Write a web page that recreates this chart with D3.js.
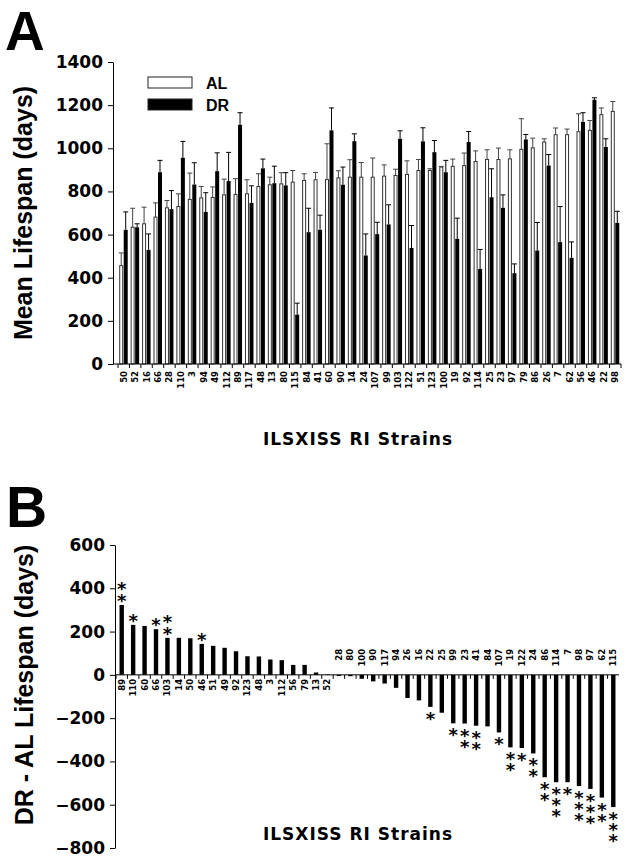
<!DOCTYPE html>
<html>
<head>
<meta charset="utf-8">
<script src="https://cdn.jsdelivr.net/npm/d3@7"></script>
<style>
  body { margin: 0; background: #fff; }
  .tick text { font-family: "DejaVu Sans", Verdana, sans-serif; font-weight: bold; }
</style>
</head>
<body>
<div id="chart"></div>
<script>
// Datos panel A (orden del eje x)
// ===============================
var strainsA = ["50","52","16","66","28","110","3","94","49","112","89","117","48","13","80","115","84","41","60","90","14","24",
  "107","99","103","122","51","123","100","19","92","114","25","23","97","79","86","26","7","62","56","46","22","98"];
var alMean = [456,634,650,681,724,730,763,770,772,784,786,789,823,831,835,843,851,854,855,863,866,866,
  866,871,874,879,897,897,913,916,920,939,948,948,951,995,1002,1029,1063,1063,1077,1083,1156,1171];
var alSem = [59,88,77,66,34,59,122,53,49,73,73,65,59,35,52,54,31,34,166,33,81,68,
  89,52,29,63,51,8,3,34,58,49,45,53,42,142,45,15,31,26,83,46,31,46];
var drMean = [622,634,529,889,718,956,832,705,894,848,1109,747,907,838,828,229,611,622,1083,831,1033,503,
  602,647,1044,538,1032,982,889,580,1029,441,773,724,421,1041,526,920,565,492,1122,1225,1006,654];
var drSem = [83,16,74,55,86,76,101,89,85,133,56,79,43,79,59,53,111,68,104,82,34,100,
  55,91,37,104,63,54,55,96,49,90,132,60,43,23,130,51,165,74,43,9,38,54];
var ticksA = [0,200,400,600,800,1000,1200,1400];

// Datos panel B
// =============
var strainsB = ["89","110","60","66","103","14","50","46","51","49","92","123","48","3","112","56","79","13","52",
  "28","80","100","90","117","94","26","16","22","25","99","23","41","84","107","19","122","24","86","114","7","98","97","62","115"];
var diffB = [323,231,226,211,171,171,169,143,134,125,109,86,85,71,68,46,46,11,2,
  -5,-6,-18,-30,-40,-60,-107,-118,-148,-175,-224,-225,-235,-238,-266,-335,-338,-363,-473,-496,-496,-514,-527,-567,-611];
var starsB = [2,1,0,1,2,0,0,1,0,0,0,0,0,0,0,0,0,0,0,
  0,0,0,0,0,0,0,0,1,0,1,2,2,0,1,2,1,2,2,3,1,3,3,2,3];
var ticksB = [-800,-600,-400,-200,0,200,400,600];

var W = 626, H = 859;
var svg = d3.select("#chart").append("svg")
  .attr("width", W).attr("height", H)
  .style("font-family", "'Liberation Sans', Arial, sans-serif");

var dataA = strainsA.map(function(s, i) {
  return { strain: s, al: alMean[i], alE: alSem[i], dr: drMean[i], drE: drSem[i] };
});
var dataB = strainsB.map(function(s, i) {
  return { strain: s, v: diffB[i], n: starsB[i] };
});

///////////////////////////////////
// PANEL A //
//////////////////////////////////
var axA = 113;
var yA = d3.scaleLinear().domain([0, 1400]).range([364, 62]);
var xA = d3.scaleBand().domain(strainsA).range([118, 621]);

svg.append("text").attr("x", 5).attr("y", 50)
  .attr("font-size", 55).attr("font-weight", "bold").text("A");

svg.append("text")
  .attr("transform", "translate(32," + ((yA(0) + yA(1400)) / 2) + ") rotate(-90)")
  .attr("text-anchor", "middle")
  .attr("font-size", 25).attr("font-weight", "bold")
  .text("Mean Lifespan (days)");

// Eje Y
var gyA = svg.append("g").attr("transform", "translate(" + axA + ",0)")
  .call(d3.axisLeft(yA).tickValues(ticksA).tickFormat(d3.format("d"))
    .tickSize(5).tickSizeOuter(0).tickPadding(5));
gyA.selectAll("text").attr("font-size", 17).attr("fill", "#000");
gyA.selectAll("line,path").attr("stroke", "#000");

// Barras AL
var bw = 4;
svg.append("g").selectAll("rect").data(dataA).enter().append("rect")
  .attr("x", function(d) { return xA(d.strain) + xA.bandwidth() / 2 - bw; })
  .attr("y", function(d) { return yA(d.al); })
  .attr("width", bw - 1)
  .attr("height", function(d) { return yA(0) - yA(d.al); })
  .attr("fill", "#fff").attr("stroke", "#333").attr("stroke-width", 1);

// Barras DR
svg.append("g").selectAll("rect").data(dataA).enter().append("rect")
  .attr("x", function(d) { return xA(d.strain) + xA.bandwidth() / 2; })
  .attr("y", function(d) { return yA(d.dr); })
  .attr("width", bw)
  .attr("height", function(d) { return yA(0) - yA(d.dr); })
  .attr("fill", "#000");

// Barras de error
function errBars(key, keyE, off, col) {
  var g = svg.append("g").attr("stroke", col).attr("stroke-width", 1);
  dataA.forEach(function(d) {
    var cx = xA(d.strain) + xA.bandwidth() / 2 + off;
    g.append("line").attr("x1", cx).attr("x2", cx)
      .attr("y1", yA(d[key])).attr("y2", yA(d[key] + d[keyE]));
    g.append("line").attr("x1", cx - 2.5).attr("x2", cx + 2.5)
      .attr("y1", yA(d[key] + d[keyE])).attr("y2", yA(d[key] + d[keyE]));
  });
}
errBars("al", "alE", -bw / 2 - 0.5, "#444");
errBars("dr", "drE", bw / 2, "#000");

// Eje X
svg.append("line").attr("x1", axA).attr("x2", xA.range()[1])
  .attr("y1", yA(0)).attr("y2", yA(0)).attr("stroke", "#000");
svg.append("g").selectAll("line").data(strainsA.concat(["end"])).enter().append("line")
  .attr("x1", function(d) { return d === "end" ? xA.range()[1] : xA(d); })
  .attr("x2", function(d) { return d === "end" ? xA.range()[1] : xA(d); })
  .attr("y1", yA(0)).attr("y2", yA(0) + 4).attr("stroke", "#000");
var gxA = svg.append("g").attr("transform", "translate(0," + yA(0) + ")")
  .call(d3.axisBottom(xA).tickSize(0));
gxA.select(".domain").remove();
gxA.selectAll("text")
  .attr("transform", "rotate(-90)").attr("x", -7).attr("y", 0).attr("dy", "0.35em")
  .style("text-anchor", "end").attr("font-size", 8.5).attr("fill", "#000");

svg.append("text").attr("x", 358).attr("y", 445).attr("text-anchor", "middle")
  .attr("font-family", "'DejaVu Sans', Verdana, sans-serif")
  .attr("font-size", 17).attr("font-weight", "bold").attr("letter-spacing", 1)
  .text("ILSXISS RI Strains");

// Leyenda
var legend = [{ k: "AL", fill: "#fff" }, { k: "DR", fill: "#000" }];
legend.forEach(function(l, i) {
  svg.append("rect").attr("x", 148).attr("y", 77 + i * 22).attr("width", 44).attr("height", 11)
    .attr("fill", l.fill).attr("stroke", "#222").attr("stroke-width", 1);
  svg.append("text").attr("x", 206).attr("y", 89 + i * 22)
    .attr("font-size", 16).attr("font-weight", "bold").text(l.k);
});

///////////////////////////////////
// PANEL B //
//////////////////////////////////
var axB = 115;
var yB = d3.scaleLinear().domain([-800, 600]).range([848, 545]);
var xB = d3.scaleBand().domain(strainsB).range([116, 619]);

svg.append("text").attr("x", 6).attr("y", 527)
  .attr("font-size", 57).attr("font-weight", "bold").text("B");

svg.append("text")
  .attr("transform", "translate(33,685) rotate(-90)")
  .attr("text-anchor", "middle")
  .attr("font-size", 25).attr("font-weight", "bold")
  .text("DR - AL Lifespan (days)");

var gyB = svg.append("g").attr("transform", "translate(" + axB + ",0)")
  .call(d3.axisLeft(yB).tickValues(ticksB).tickFormat(d3.format("d"))
    .tickSize(5).tickSizeOuter(0).tickPadding(5));
gyB.selectAll("text").attr("font-size", 17).attr("fill", "#000");
gyB.selectAll("line,path").attr("stroke", "#000");

var bwB = 4.4;
svg.append("g").selectAll("rect").data(dataB).enter().append("rect")
  .attr("x", function(d) { return xB(d.strain) + (xB.bandwidth() - bwB) / 2; })
  .attr("y", function(d) { return yB(Math.max(0, d.v)); })
  .attr("width", bwB)
  .attr("height", function(d) { return Math.abs(yB(d.v) - yB(0)); })
  .attr("fill", "#000");

svg.append("line").attr("x1", axB).attr("x2", xB.range()[1])
  .attr("y1", yB(0)).attr("y2", yB(0)).attr("stroke", "#000");
svg.append("g").selectAll("line").data(strainsB).enter().append("line")
  .attr("x1", function(d) { return xB(d); }).attr("x2", function(d) { return xB(d); })
  .attr("y1", yB(0)).attr("y2", yB(0) + 4).attr("stroke", "#000");

var gxB = svg.append("g").attr("transform", "translate(0," + yB(0) + ")")
  .call(d3.axisBottom(xB).tickSize(0));
gxB.select(".domain").remove();
gxB.selectAll("text")
  .attr("transform", "rotate(-90)")
  .attr("x", function(d, i) { return diffB[i] >= 0 ? -4 : 26; })
  .attr("y", 0).attr("dy", "0.35em")
  .style("text-anchor", "end").attr("font-size", 8.5).attr("fill", "#000");

// Asteriscos (un texto por cepa, apilados con tspan)
var gs = svg.append("g").attr("font-family", "'DejaVu Sans', Verdana, sans-serif")
  .attr("font-size", 18).attr("font-weight", "bold").attr("text-anchor", "middle");
dataB.filter(function(d) { return d.n > 0; }).forEach(function(d) {
  var cx = xB(d.strain) + xB.bandwidth() / 2;
  var t = gs.append("text");
  for (var j = 0; j < d.n; j++) {
    var cy = d.v >= 0 ? yB(d.v) - 8 - j * 11.5 : yB(d.v) + 8 + j * 11;
    t.append("tspan").attr("x", cx).attr("y", cy + 10).text("*");
  }
});

svg.append("text").attr("x", 358).attr("y", 840).attr("text-anchor", "middle")
  .attr("font-family", "'DejaVu Sans', Verdana, sans-serif")
  .attr("font-size", 17).attr("font-weight", "bold").attr("letter-spacing", 1)
  .text("ILSXISS RI Strains");
</script>
</body>
</html>
